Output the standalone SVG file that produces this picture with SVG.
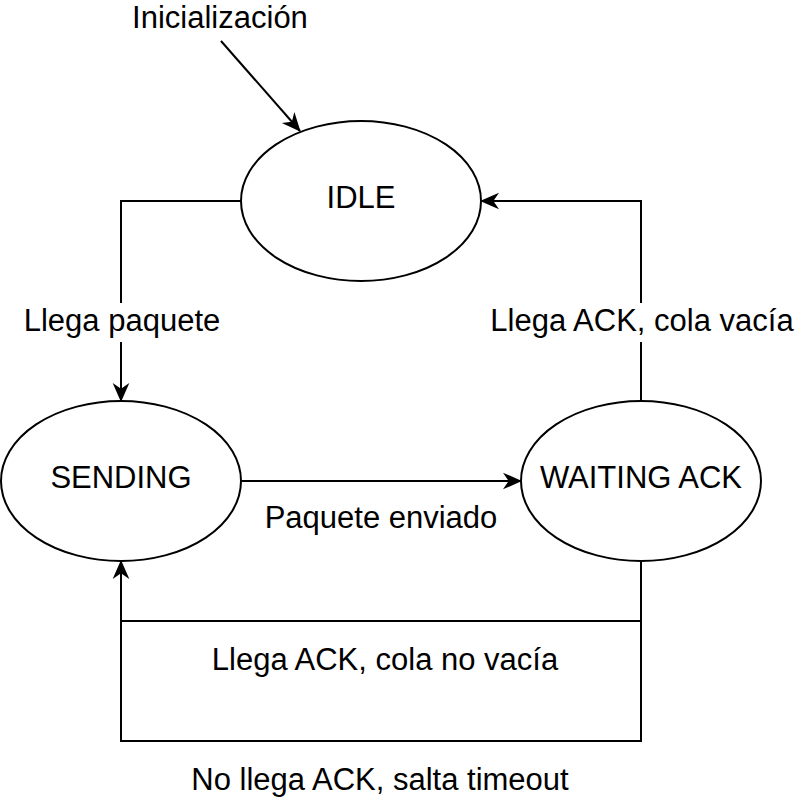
<svg xmlns="http://www.w3.org/2000/svg" width="798" height="802" viewBox="0 0 798 802">
<style>
.node{fill:#fff;stroke:#000;stroke-width:2}
.edge{fill:none;stroke:#000;stroke-width:2}
text{font-family:"Liberation Sans",Arial,sans-serif;font-size:31px;fill:#000;text-anchor:middle}
.bg{fill:#fff;stroke:none}
</style>
<defs>
<marker id="arr" viewBox="0 0 10 10" refX="9.5" refY="5" markerWidth="19" markerHeight="19" markerUnits="userSpaceOnUse" orient="auto">
<path d="M0,0.6 L10,5 L0,9.4 L3,5 Z" fill="#000"/>
</marker>
</defs>
<rect width="798" height="802" fill="#fff"/>
<g id="edges">
<line class="edge" x1="221" y1="41" x2="300" y2="131" marker-end="url(#arr)"/>
<polyline class="edge" points="241,201 121,201 121,401" marker-end="url(#arr)"/>
<polyline class="edge" points="641,401 641,201 481,201" marker-end="url(#arr)"/>
<line class="edge" x1="241" y1="481" x2="521" y2="481" marker-end="url(#arr)"/>
<polyline class="edge" points="641,561 641,621 121,621 121,561" marker-end="url(#arr)"/>
<polyline class="edge" points="641,621 641,741 121,741 121,621"/>
<rect class="bg" x="18" y="303" width="208" height="39"/>
<rect class="bg" x="482" y="303" width="316" height="39"/>
<text x="220" y="28">Inicialización</text>
<text x="122" y="331">Llega paquete</text>
<text x="642" y="331">Llega ACK, cola vacía</text>
<text x="381" y="528">Paquete enviado</text>
<text x="385" y="670">Llega ACK, cola no vacía</text>
<text x="380" y="790">No llega ACK, salta timeout</text>
</g>
<g id="idle">
<ellipse class="node" cx="361" cy="201" rx="120" ry="80"/>
<text x="361" y="208">IDLE</text>
</g>
<g id="sending">
<ellipse class="node" cx="121" cy="481" rx="120" ry="80"/>
<text x="121" y="488">SENDING</text>
</g>
<g id="waiting">
<ellipse class="node" cx="641" cy="481" rx="120" ry="80"/>
<text x="641" y="488">WAITING ACK</text>
</g>
</svg>
